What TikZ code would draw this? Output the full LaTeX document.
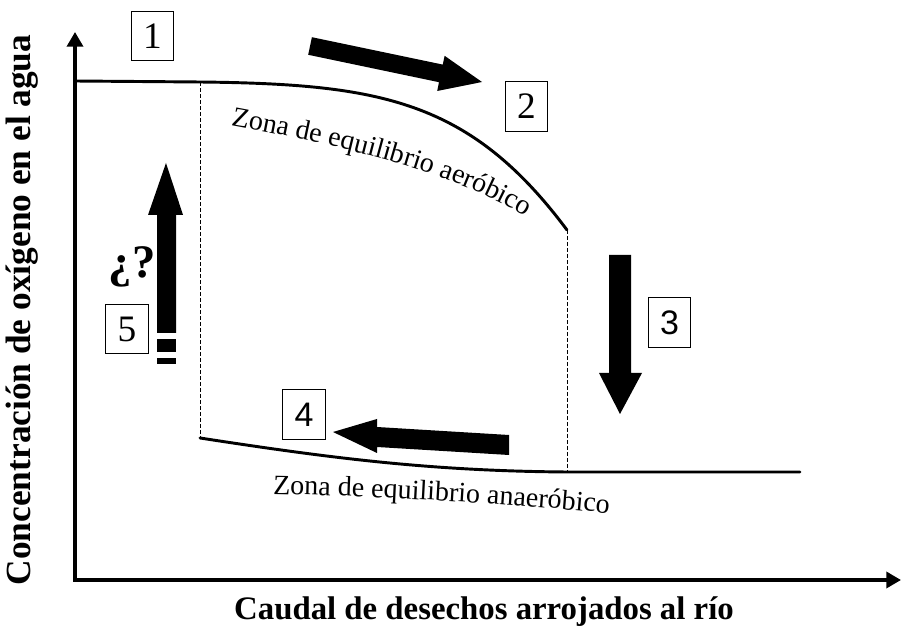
\documentclass[tikz,border=0pt]{standalone}
\usepackage{fontspec}
\setmainfont{Liberation Serif}
\newfontfamily\arialf{Liberation Sans}
\usetikzlibrary{arrows.meta,decorations.text}
\begin{document}
\begin{tikzpicture}[x=0.75pt,y=-0.75pt,
  axisline/.style={line width=2.6pt},
  curveline/.style={line width=2.2pt, line cap=round},
  guide/.style={line width=0.7pt, dash pattern=on 3pt off 1.5pt},
  numbox/.style={draw, line width=0.8pt, minimum width=32pt, minimum height=37pt, inner sep=0pt, font=\fontsize{28}{28}\selectfont},
  sansnum/.style={font=\arialf\fontsize{25.5}{25.5}\selectfont},
  fat/.style={fill=black}]
\useasboundingbox (0,0) rectangle (901,634);

% axes
\draw[axisline, {Triangle[length=11pt,width=12pt]}-{Triangle[length=11pt,width=12pt]}] (75,32) -- (75,580) -- (901,580);

% dashed guides
\draw[guide] (200,82) -- (200,438);
\draw[guide] (567,230) -- (567,472);

% curves
\draw[curveline] (75,81) -- (200,82) .. controls (380,84) and (470,100) .. (567,230);
\draw[curveline] (200,438) .. controls (330,458) and (430,471) .. (567,472) -- (800,472);

% curve labels
\path[decorate, decoration={text along path, text align=center,
  text={|\fontsize{21}{21}\selectfont|Zona de equilibrio aeróbico}}]
  (224,124) .. controls (330,144) and (448,168) .. (532,220);
\path[decorate, decoration={text along path, text align=center,
  text={|\fontsize{21}{21}\selectfont|Zona de equilibrio anaeróbico}}]
  (266,494) .. controls (380,496) and (500,503) .. (616,514);

% fat arrows
\fill[fat] (308.2,54.8) -- (439.0,82.2) -- (437.2,91.0) -- (482,82) -- (444.6,55.8) -- (442.8,64.6) -- (311.9,37.2) -- cycle;
\fill[fat] (609,255) -- (631,255) -- (631,373) -- (642,373) -- (620,414) -- (599,373) -- (609,373) -- cycle;
\fill[fat] (509,435) -- (509,455) -- (377,447) -- (377,453) -- (333,432) -- (377,419) -- (377,427) -- cycle;
\fill[fat] (157,333) -- (157,215) -- (148,215) -- (166,163) -- (183,215) -- (176,215) -- (176,333) -- cycle;
\fill[fat] (157,339) rectangle (176,352);
\fill[fat] (157,358) rectangle (176,364);

% numbered boxes
\node[numbox] (b1) at (152.5,36) {1};
\node[numbox] (b2) at (526.5,106.5) {2};
\node[numbox, sansnum] (b3) at (669.5,322.5) {3};
\node[numbox, sansnum] (b4) at (304,414.5) {4};
\node[numbox] (b5) at (127,329) {5};

% question mark
\node[font=\bfseries\fontsize{35}{35}\selectfont, inner sep=0pt] (q) at (132,267) {¿?};

% axis labels
\node[font=\bfseries\fontsize{26.5}{26.5}\selectfont, rotate=90] (ylab) at (22,310) {Concentración de oxígeno en el agua};
\node[font=\bfseries\fontsize{24.6}{24.6}\selectfont] (xlab) at (484,612) {Caudal de desechos arrojados al río};
\end{tikzpicture}
\end{document}
